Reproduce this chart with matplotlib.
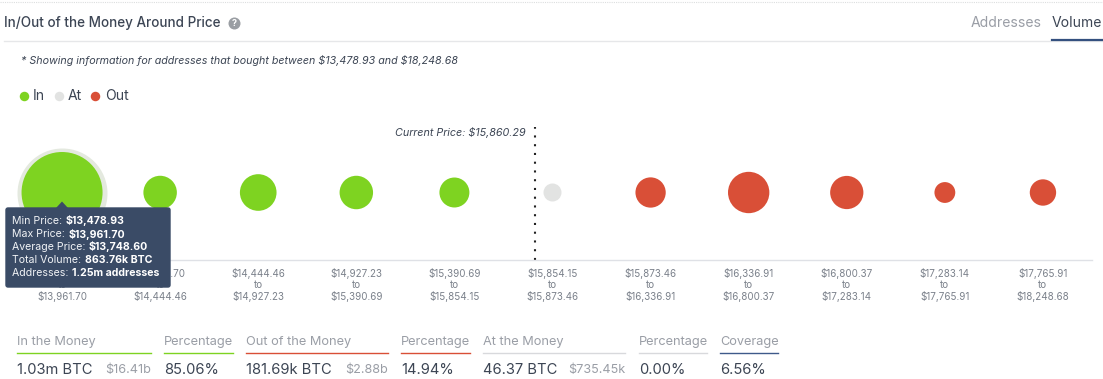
import matplotlib
matplotlib.use("Agg")
import matplotlib.pyplot as plt
import numpy as np
from matplotlib.patches import FancyBboxPatch, Polygon

plt.rcParams['font.family'] = ['Inter', 'DejaVu Sans']

# ---- data ----
price_from = ["$13,478.93", "$13,961.70", "$14,444.46", "$14,927.23", "$15,390.69", "$15,854.15",
              "$15,873.46", "$16,336.91", "$16,800.37", "$17,283.14", "$17,765.91"]
price_to = ["$13,961.70", "$14,444.46", "$14,927.23", "$15,390.69", "$15,854.15", "$15,873.46",
            "$16,336.91", "$16,800.37", "$17,283.14", "$17,765.91", "$18,248.68"]
volume_k = [863.76, 41, 56, 41, 28, 0.046, 29, 85, 40, 8, 18]
status = ["In", "In", "In", "In", "In", "At", "Out", "Out", "Out", "Out", "Out"]
current_price_label = "Current Price: $15,860.29"
legend_labels = ["In", "At", "Out"]
tooltip_rows = [("Min Price: ", "$13,478.93"), ("Max Price: ", "$13,961.70"),
                ("Average Price: ", "$13,748.60"), ("Total Volume: ", "863.76k BTC"),
                ("Addresses: ", "1.25m addresses")]
summary_heads = ["In the Money", "Percentage", "Out of the Money", "Percentage", "At the Money", "Percentage", "Coverage"]
summary_vals = ["1.03m BTC", "85.06%", "181.69k BTC", "14.94%", "46.37 BTC", "0.00%", "6.56%"]
summary_subs = ["$16.41b", "", "$2.88b", "", "$735.45k", "", ""]

# ---- style ----
W, H = 1103, 379
COL = {"In": "#7ed321", "At": "#e2e3e2", "Out": "#d94f37"}
DARK, MID, LIGHT = "#3c4554", "#7b818b", "#9a9ea6"
sum_cols = ["#7ed321", "#7ed321", "#d94f37", "#d94f37", "#d8d9dc", "#d8d9dc", "#3f5a8a"]
sum_x = [(17, 151), (164, 233), (246, 388), (401, 470), (483, 625), (639, 707), (720, 778)]

fig = plt.figure(figsize=(W / 100, H / 100), dpi=100, facecolor="white")

# chart axes, one unit per price bin
ax = fig.add_axes([13 / W, 1 - 260 / H, 1079 / W, 135 / H])
ax.set_xlim(-0.5, 10.5)
ax.set_ylim(-1, 1)
ax.set_yticks([])
for s in ("top", "left", "right"):
    ax.spines[s].set_visible(False)
ax.spines["bottom"].set_color("#dfe1e6")
ax.spines["bottom"].set_linewidth(1)
xs = np.arange(len(volume_k))
ax.set_xticks(xs)
ax.set_xticklabels([f"{a}\nto\n{b}" for a, b in zip(price_from, price_to)],
                   fontsize=7.1, color=MID, linespacing=1.12)
ax.tick_params(axis="x", length=0, pad=6)

diam = np.maximum(18, 81 * (np.array(volume_k) / max(volume_k)) ** 0.29)
sizes = (diam * 0.72) ** 2
ax.scatter(xs[:1], [0.0], s=((diam[0] + 9) * 0.72) ** 2, color="#e4e9df", linewidths=0, zorder=2)
ax.scatter(xs, np.zeros_like(xs, dtype=float), s=sizes, c=[COL[k] for k in status], linewidths=0, zorder=3, clip_on=False)
ax.plot([4.82, 4.82], [-1, 0.97], color="#222222", lw=1.5, ls=(0, (1, 3.2)), zorder=2)

# page layer in pixel coordinates
pg = fig.add_axes([0, 0, 1, 1], facecolor="none")
pg.set_xlim(0, W)
pg.set_ylim(H, 0)
pg.axis("off")

pg.plot([0, W], [2, 2], color="#dcdedf", lw=0.8, ls=(0, (1, 1)))
pg.plot([4, W], [41, 41], color="#e6e7e9", lw=1)
pg.text(4, 23, "In/Out of the Money Around Price", fontsize=9.7, color=DARK, va="center", fontweight="medium")
pg.scatter([234], [23], s=(12 * .72) ** 2, color="#9a9ea3", linewidths=0)
pg.text(234, 23.3, "?", fontsize=6.5, color="white", ha="center", va="center", fontweight="bold")
pg.text(971, 23, "Addresses", fontsize=10.1, color=LIGHT, va="center")
pg.text(1052, 23, "Volume", fontsize=10.1, color=DARK, va="center")
pg.plot([1052, 1102], [39.5, 39.5], color="#34507f", lw=1.6)
pg.text(21, 61, r"* Showing information for addresses that bought between \$13,478.93 and \$18,248.68",
        fontsize=7.7, style="italic", color=DARK, va="center")

for lab, cx, tx in zip(legend_labels, [24, 58.5, 95], [33, 68, 105]):
    pg.scatter([cx], [96], s=(9.5 * .72) ** 2, color=COL[lab], linewidths=0)
    pg.text(tx, 96.5, lab, fontsize=10.1, color=DARK, va="center")

pg.text(526, 132, current_price_label, fontsize=7.75, style="italic", color=DARK, ha="right", va="center")

# tooltip
pg.add_patch(FancyBboxPatch((6, 208), 164, 79, boxstyle="round,pad=0,rounding_size=2",
                            fc="#3a4b66", ec="#3a4b66", lw=1, zorder=5))
pg.add_patch(Polygon([[56, 208], [62, 201.5], [68, 208]], closed=True, fc="#3a4b66", ec="none", zorder=5))
fig.canvas.draw()
rend = fig.canvas.get_renderer()
for i, (a, b) in enumerate(tooltip_rows):
    y = 221 + i * 13
    t = pg.text(12, y, a, fontsize=7.6, color="#f1f3f6", va="center", zorder=6)
    bb = t.get_window_extent(rend)
    pg.text(bb.x1 + 0.5, y, b, fontsize=7.6, color="white", va="center", fontweight="bold", zorder=6)

# summary row
for (x0, x1), c, h, v, sub in zip(sum_x, sum_cols, summary_heads, summary_vals, summary_subs):
    pg.text(x0, 342, h, fontsize=9.2, color=LIGHT, va="center")
    pg.plot([x0, x1], [352.5, 352.5], color=c, lw=1.0)
    pg.text(x0, 369.5, v, fontsize=10.6, color=DARK, va="center")
    if sub:
        pg.text(x1, 370, sub, fontsize=9.1, color=LIGHT, va="center", ha="right")

fig.savefig("out.png", dpi=100, facecolor="white")
